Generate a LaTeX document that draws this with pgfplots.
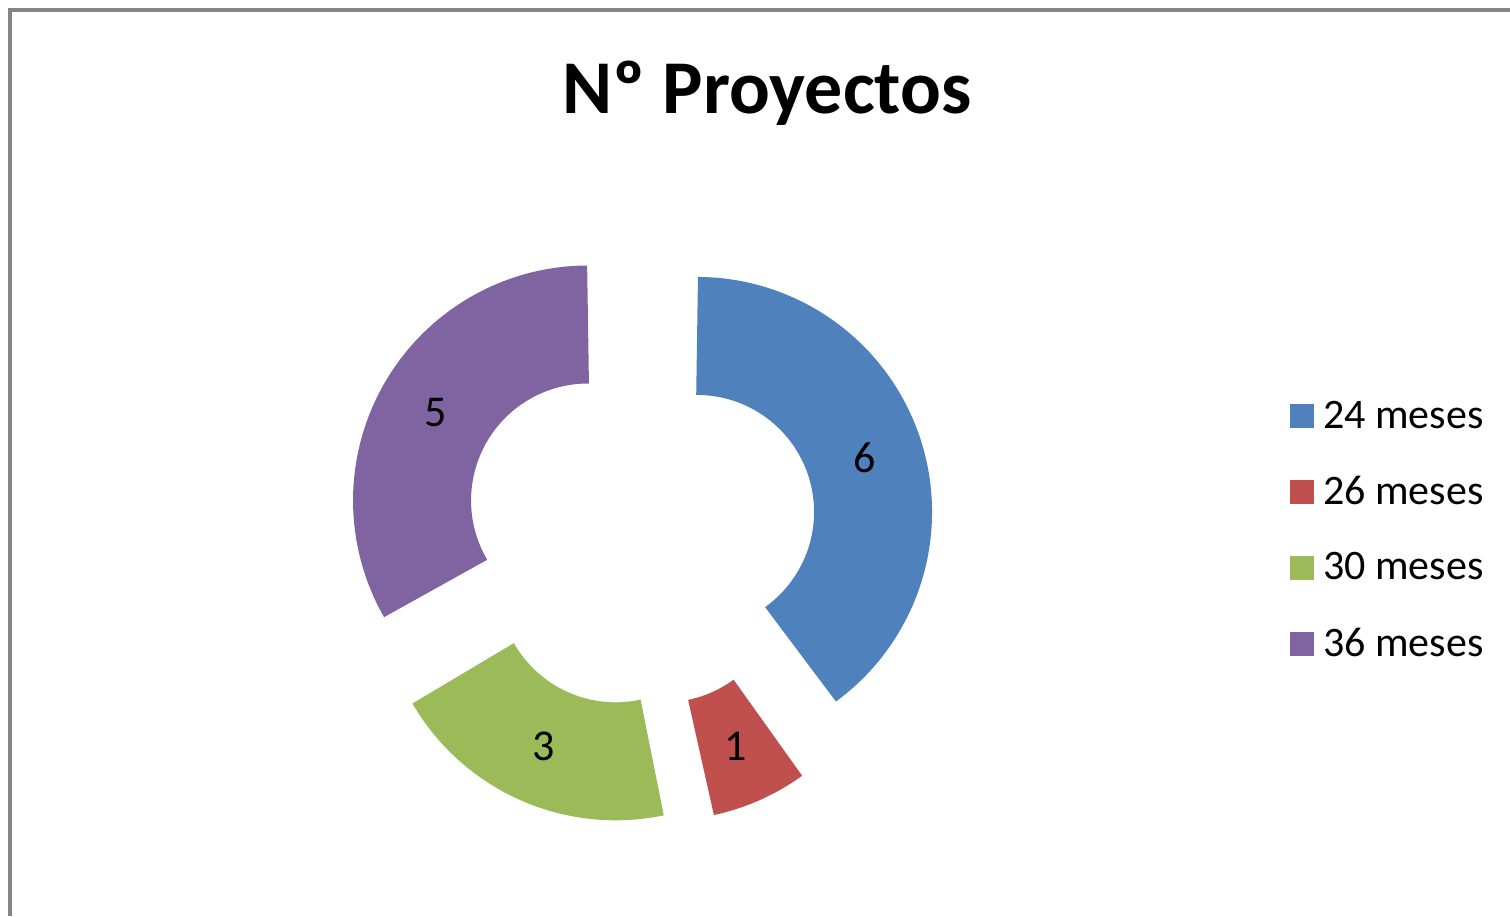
\documentclass[border=0pt]{standalone}
\usepackage{pgfplots}
\pgfplotsset{compat=1.18}
\usepackage{pgfplotstable}
\usepackage{fontspec}
\setmainfont{Carlito}
\definecolor{c1}{HTML}{4F81BD}
\definecolor{c2}{HTML}{C0504D}
\definecolor{c3}{HTML}{9BBB59}
\definecolor{c4}{HTML}{8064A2}
\definecolor{framec}{HTML}{868686}

\pgfplotstableread{
value
6
1
3
5
}\donut

\pgfplotstablegetelem{0}{value}\of\donut \edef\vA{\pgfplotsretval}
\pgfplotstablegetelem{1}{value}\of\donut \edef\vB{\pgfplotsretval}
\pgfplotstablegetelem{2}{value}\of\donut \edef\vC{\pgfplotsretval}
\pgfplotstablegetelem{3}{value}\of\donut \edef\vD{\pgfplotsretval}
\pgfmathsetmacro\tot{\vA+\vB+\vC+\vD}
\pgfmathsetmacro\aA{90}
\pgfmathsetmacro\aB{\aA-360*\vA/\tot}
\pgfmathsetmacro\aC{\aB-360*\vB/\tot}
\pgfmathsetmacro\aD{\aC-360*\vC/\tot}
\pgfmathsetmacro\aE{\aD-360*\vD/\tot}
\def\cx{640}
\def\cy{385.5}
\def\rmid{176}
\def\dexp{60}
\pgfmathsetmacro\mA{(\aA+\aB)/2}
\pgfmathsetmacro\mB{(\aB+\aC)/2}
\pgfmathsetmacro\mC{(\aC+\aD)/2}
\pgfmathsetmacro\mD{(\aD+\aE)/2}
\pgfmathsetmacro\xA{\cx+\dexp*cos(\mA)}\pgfmathsetmacro\yA{\cy+\dexp*sin(\mA)}
\pgfmathsetmacro\xB{\cx+\dexp*cos(\mB)}\pgfmathsetmacro\yB{\cy+\dexp*sin(\mB)}
\pgfmathsetmacro\xC{\cx+\dexp*cos(\mC)}\pgfmathsetmacro\yC{\cy+\dexp*sin(\mC)}
\pgfmathsetmacro\xD{\cx+\dexp*cos(\mD)}\pgfmathsetmacro\yD{\cy+\dexp*sin(\mD)}
\pgfmathsetmacro\lxA{\xA+\rmid*cos(\mA)}\pgfmathsetmacro\lyA{\yA+\rmid*sin(\mA)}
\pgfmathsetmacro\lxB{\xB+\rmid*cos(\mB)}\pgfmathsetmacro\lyB{\yB+\rmid*sin(\mB)}
\pgfmathsetmacro\lxC{\xC+\rmid*cos(\mC)}\pgfmathsetmacro\lyC{\yC+\rmid*sin(\mC)}
\pgfmathsetmacro\lxD{\xD+\rmid*cos(\mD)}\pgfmathsetmacro\lyD{\yD+\rmid*sin(\mD)}

\begin{document}
\begin{tikzpicture}
\begin{axis}[
  x=0.5pt, y=0.5pt,
  xmin=0, xmax=1510, ymin=0, ymax=916,
  hide axis,
  axis line style={draw=none},
  legend image code/.code={\fill[#1] (0pt,-5.75pt) rectangle (11.5pt,5.75pt);},
  legend style={at={(0.8543,0.5681)}, anchor=north west, draw=none, fill=none,
    font=\fontsize{21}{25}\selectfont, row sep=17.5pt, inner sep=0pt,
    nodes={inner xsep=4.5pt, inner ysep=2.5pt}},
  legend cell align=left,
]
\addplot[c1, line width=59pt, domain=\aB:\aA, samples=90, forget plot] ({\xA+\rmid*cos(x)},{\yA+\rmid*sin(x)});
\addplot[c2, line width=59pt, domain=\aC:\aB, samples=30, forget plot] ({\xB+\rmid*cos(x)},{\yB+\rmid*sin(x)});
\addplot[c3, line width=59pt, domain=\aD:\aC, samples=60, forget plot] ({\xC+\rmid*cos(x)},{\yC+\rmid*sin(x)});
\addplot[c4, line width=59pt, domain=\aE:\aD, samples=80, forget plot] ({\xD+\rmid*cos(x)},{\yD+\rmid*sin(x)});
\addlegendimage{c1}
\addlegendimage{c2}
\addlegendimage{c3}
\addlegendimage{c4}
\legend{24 meses, 26 meses, 30 meses, 36 meses}
\node[font=\fontsize{22}{26}\selectfont] at (axis cs:\lxA,\lyA) {\vA};
\node[font=\fontsize{22}{26}\selectfont] at (axis cs:\lxB,\lyB) {\vB};
\node[font=\fontsize{22}{26}\selectfont] at (axis cs:\lxC,\lyC) {\vC};
\node[font=\fontsize{22}{26}\selectfont] at (axis cs:\lxD,\lyD) {\vD};
\node[font=\fontsize{38}{46}\selectfont\bfseries, anchor=base] at (axis cs:767,802) {Nº Proyectos};
\draw[framec, line width=2pt] (axis cs:10,0) -- (axis cs:10,906) -- (axis cs:1510,906);
\end{axis}
\pgfresetboundingbox
\path[use as bounding box] (current axis.south west) rectangle (current axis.north east);
\end{tikzpicture}
\end{document}
